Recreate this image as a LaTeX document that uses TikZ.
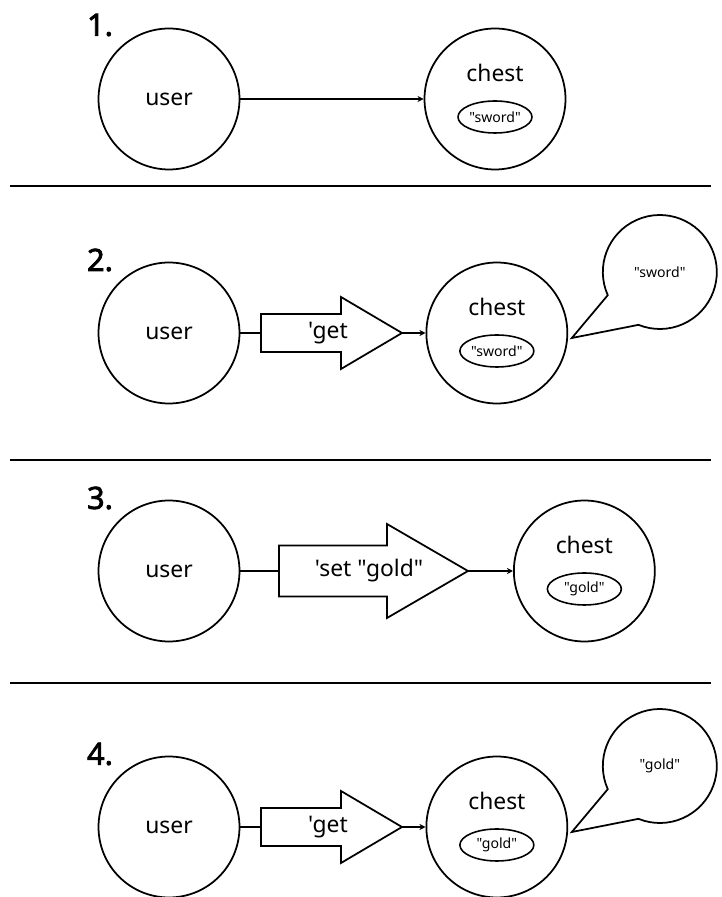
\documentclass[tikz,border=0pt]{standalone}
\usepackage{fontspec}
\setmainfont{Noto Sans}[Ligatures=TeXOff, AutoFakeBold=2.5]
\usepackage{tikz}
\usetikzlibrary{positioning,arrows.meta,shapes.geometric}

\tikzset{
  party/.style={draw, circle, line width=1pt, minimum size=2.82cm, inner sep=0pt,
    font=\fontsize{13}{15}\selectfont},
  tag/.style={font=\fontsize{13}{15}\selectfont},
  item/.style={draw, ellipse, line width=0.9pt, minimum width=1.48cm, minimum height=0.64cm,
    inner sep=0pt, font=\fontsize{8}{9}\selectfont},
  msg/.style={font=\fontsize{13}{15}\selectfont},
  msgbox/.style={draw, line width=1pt, line join=miter},
  link/.style={line width=0.9pt},
  send/.style={link, -{Stealth[length=3.5pt,width=3.5pt]}},
  stage/.style={font=\fontsize{17.5}{20}\selectfont\bfseries},
  bubble/.style={circle, minimum size=2.28cm, inner sep=0pt, outer sep=0pt,
    font=\fontsize{8}{9}\selectfont},
  rule/.style={line width=1.2pt},
}

\begin{document}
\begin{tikzpicture}[x=0.02cm, y=0.02cm]
  \useasboundingbox (0,0) rectangle (721,897);

  % stage 1
  \node[stage] (stage1) at (100,872) {1.};
  \node[party] (user1) at (169,798) {user};
  \node[party] (chest1) at (495,798) {};
  \node[tag] (chest1tag) at ([yshift=0.52cm]chest1.center) {chest};
  \node[item] (item1) at ([yshift=-0.36cm]chest1.center) {"sword"};
  \draw[send] (user1) -- (chest1);

  \draw[rule] (10,711) -- (711,711);

  % stage 2
  \node[stage] (stage2) at (100,637) {2.};
  \node[party] (user2) at (169,564) {user};
  \coordinate (tail2) at (261,564);
  \coordinate (tip2) at (402,564);
  \node[msg] (msg2) at (328,564) {'get};
  \node[party, right=0.47cm of tip2] (chest2) {};
  \node[tag] (chest2tag) at ([yshift=0.52cm]chest2.center) {chest};
  \node[item] (item2) at ([yshift=-0.36cm]chest2.center) {"sword"};
  \node[bubble] (bub2) at ([shift={(3.26cm,1.22cm)}]chest2.center) {"sword"};
  \coordinate (point2) at ([shift={(1.5cm,-0.1cm)}]chest2.center);
  \draw[msgbox] (tail2) -- ++(0,19) -- ++(80,0) -- ++(0,17) -- (tip2)
    -- ++(-61,-36) -- ++(0,17) -- ++(-80,0) -- cycle;
  \draw[link] (user2) -- (tail2);
  \draw[send] (tip2) -- (chest2);
  \draw[line width=1pt] (point2) -- (bub2.204) arc[start angle=204, end angle=-112, radius=1.14cm] -- cycle;

  \draw[rule] (10,437) -- (711,437);

  % stage 3
  \node[stage] (stage3) at (100,399) {3.};
  \node[party] (user3) at (169,326) {user};
  \coordinate (tail3) at (279,326);
  \coordinate (tip3) at (468,326);
  \node[msg] (msg3) at (369,326) {'set "gold"};
  \node[party, right=0.9cm of tip3] (chest3) {};
  \node[tag] (chest3tag) at ([yshift=0.52cm]chest3.center) {chest};
  \node[item] (item3) at ([yshift=-0.36cm]chest3.center) {"gold"};
  \draw[msgbox] (tail3) -- ++(0,25.5) -- ++(108,0) -- ++(0,21.5) -- (tip3)
    -- ++(-81,-47) -- ++(0,21.5) -- ++(-108,0) -- cycle;
  \draw[link] (user3) -- (tail3);
  \draw[send] (tip3) -- (chest3);

  \draw[rule] (10,214) -- (711,214);

  % stage 4
  \node[stage] (stage4) at (100,143) {4.};
  \node[party] (user4) at (169,70) {user};
  \coordinate (tail4) at (261,70);
  \coordinate (tip4) at (402,70);
  \node[msg] (msg4) at (328,70) {'get};
  \node[party, right=0.47cm of tip4] (chest4) {};
  \node[tag] (chest4tag) at ([yshift=0.52cm]chest4.center) {chest};
  \node[item] (item4) at ([yshift=-0.36cm]chest4.center) {"gold"};
  \node[bubble] (bub4) at ([shift={(3.26cm,1.22cm)}]chest4.center) {"gold"};
  \coordinate (point4) at ([shift={(1.5cm,-0.1cm)}]chest4.center);
  \draw[msgbox] (tail4) -- ++(0,19) -- ++(80,0) -- ++(0,17) -- (tip4)
    -- ++(-61,-36) -- ++(0,17) -- ++(-80,0) -- cycle;
  \draw[link] (user4) -- (tail4);
  \draw[send] (tip4) -- (chest4);
  \draw[line width=1pt] (point4) -- (bub4.204) arc[start angle=204, end angle=-112, radius=1.14cm] -- cycle;
\end{tikzpicture}
\end{document}
